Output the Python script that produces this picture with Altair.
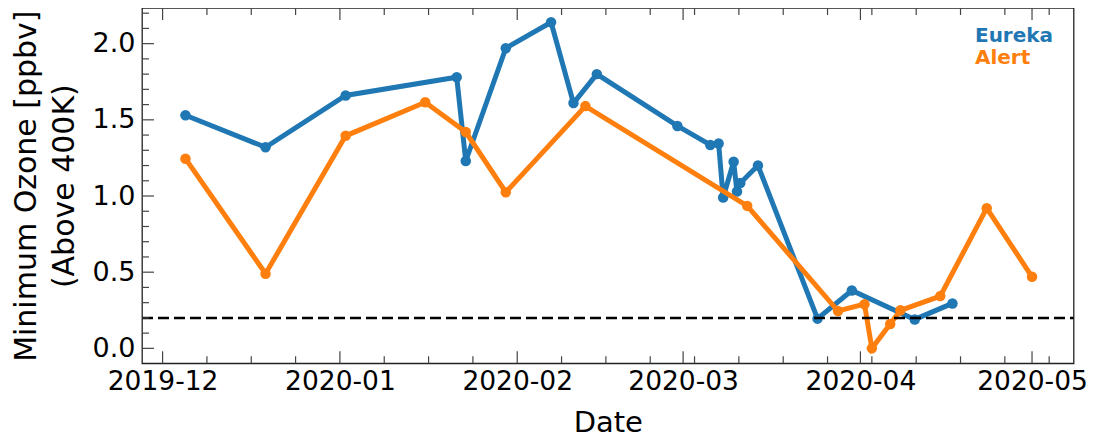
import altair as alt
import pandas as pd

# ---------------- data ----------------
eureka_dates = [
    "2019-12-05T00:00:00Z", "2019-12-19T00:00:00Z", "2020-01-02T00:00:00Z",
    "2020-01-21T10:00:00Z", "2020-01-23T00:00:00Z", "2020-01-30T00:00:00Z",
    "2020-02-06T22:00:00Z", "2020-02-10T20:00:00Z", "2020-02-14T22:00:00Z",
    "2020-02-29T00:00:00Z", "2020-03-05T18:00:00Z", "2020-03-07T05:00:00Z",
    "2020-03-08T00:00:00Z", "2020-03-09T20:00:00Z", "2020-03-10T10:00:00Z",
    "2020-03-11T00:00:00Z", "2020-03-14T02:00:00Z", "2020-03-24T12:00:00Z",
    "2020-03-30T12:00:00Z", "2020-04-10T12:00:00Z", "2020-04-17T02:00:00Z",
]
eureka_vals = [
    1.53, 1.32, 1.66, 1.78, 1.23, 1.97, 2.14, 1.61, 1.80, 1.46, 1.335,
    1.345, 0.99, 1.225, 1.03, 1.085, 1.20, 0.195, 0.38, 0.19, 0.295,
]

alert_dates = [
    "2019-12-05T00:00:00Z", "2019-12-19T00:00:00Z", "2020-01-02T00:00:00Z",
    "2020-01-15T22:00:00Z", "2020-01-23T00:00:00Z", "2020-01-30T00:00:00Z",
    "2020-02-12T22:00:00Z", "2020-03-12T05:00:00Z", "2020-03-28T02:00:00Z",
    "2020-04-01T17:00:00Z", "2020-04-03T00:00:00Z", "2020-04-06T05:00:00Z",
    "2020-04-08T00:00:00Z", "2020-04-14T23:00:00Z", "2020-04-23T02:00:00Z",
    "2020-05-01T00:00:00Z",
]
alert_vals = [
    1.245, 0.49, 1.395, 1.615, 1.42, 1.025, 1.59, 0.935, 0.245, 0.29,
    0.0, 0.16, 0.25, 0.343, 0.92, 0.47,
]

threshold = [0.2]
series_names = ["Eureka", "Alert"]
x_tick_labels = ["2019-12-01", "2020-01-01", "2020-02-01", "2020-03-01",
                 "2020-04-01", "2020-05-01"]
y_tick_labels = [0.0, 0.5, 1.0, 1.5, 2.0]
y_title = ["Minimum Ozone [ppbv]", "(Above 400K)"]
x_title = "Date"

# ---------------- styling / layout ----------------
W = 931.6
H = 355.3
BLUE = "#1f77b4"
ORANGE = "#ff7f0e"
FONT = "DejaVu Sans"
TICK = "#444444"


def ms(s):
    return int(pd.Timestamp(s, tz="UTC").value // 10**6)


x_domain = [ms("2019-11-27T09:35:00"), ms("2020-05-08T06:25:00")]
y_domain = [-0.098, 2.234]

month_ms = [ms(d) for d in x_tick_labels]
# matplotlib AutoMinorLocator: 4 subdivisions of the first major step (31 days)
step = pd.Timedelta(days=7.75)
start = pd.Timestamp(x_tick_labels[0], tz="UTC")
minor_x = []
for k in range(-1, 22):
    t = start + k * step
    v = int(t.value // 10**6)
    if x_domain[0] < v < x_domain[1] and v not in month_ms:
        minor_x.append(v)
minor_y = [round(i * 0.1, 1) for i in range(0, 23)]
minor_y = [v for v in minor_y if all(abs(v - m) > 1e-6 for m in y_tick_labels)]

xscale = alt.Scale(type="utc", domain=x_domain, nice=False)
yscale = alt.Scale(domain=y_domain, nice=False, zero=False)

xaxis = alt.Axis(
    values=month_ms, labelExpr="utcFormat(datum.value, '%Y-%m')",
    ticks=False, tickSize=0,
    domain=False, grid=False, labelFont=FONT, labelFontSize=26.5,
    labelColor="black", labelPadding=5, labelFlush=False, labelOverlap=False,
    titleFont=FONT, titleFontSize=29, titleFontWeight="normal",
    titleColor="black", titlePadding=14,
)
yaxis = alt.Axis(
    values=y_tick_labels, format=".1f", ticks=False, tickSize=0, domain=False,
    grid=False, labelFont=FONT, labelFontSize=27, labelColor="black",
    labelPadding=7, labelFlush=False, labelOverlap=False,
    titleFont=FONT, titleFontSize=30, titleFontWeight="normal",
    titleColor="black", titlePadding=13, titleLineHeight=38,
)


def X():
    return alt.X("date:T", scale=xscale, axis=xaxis, title=x_title)


def Y():
    return alt.Y("val:Q", scale=yscale, axis=yaxis, title=y_title)


eu = pd.DataFrame({"date": eureka_dates, "val": eureka_vals})
al = pd.DataFrame({"date": alert_dates, "val": alert_vals})

line_e = alt.Chart(eu).mark_line(color=BLUE, strokeWidth=5).encode(x=X(), y=Y())
pts_e = alt.Chart(eu).mark_circle(color=BLUE, size=110, opacity=1).encode(x=X(), y=Y())
line_a = alt.Chart(al).mark_line(color=ORANGE, strokeWidth=5).encode(x=X(), y=Y())
pts_a = alt.Chart(al).mark_circle(color=ORANGE, size=110, opacity=1).encode(x=X(), y=Y())

thr = alt.Chart(pd.DataFrame({"val": threshold})).mark_rule(
    color="black", strokeWidth=2.5, strokeDash=[11, 5]
).encode(y=Y(), x=alt.value(0), x2=alt.value(W))

maj_x = pd.DataFrame({"date": month_ms})
min_x = pd.DataFrame({"date": minor_x})
maj_y = pd.DataFrame({"val": y_tick_labels})
min_y = pd.DataFrame({"val": minor_y})


def xt(df, y0, y1):
    return alt.Chart(df).mark_rule(color=TICK, strokeWidth=1.2).encode(
        x=X(), y=alt.value(y0), y2=alt.value(y1))


def yt(df, length):
    return alt.Chart(df).mark_rule(color=TICK, strokeWidth=1.2).encode(
        y=Y(), x=alt.value(0), x2=alt.value(length))


ticks = [
    xt(maj_x, H, H - 12), xt(min_x, H, H - 7),
    xt(maj_x, 0, 12), xt(min_x, 0, 7),
    yt(maj_y, 12), yt(min_y, 7),
]

leg_e = alt.Chart(pd.DataFrame({"t": [series_names[0]]})).mark_text(
    align="left", baseline="middle", font=FONT, fontSize=20, fontWeight="bold",
    color=BLUE,
).encode(text="t:N", x=alt.value(833), y=alt.value(28))
leg_a = alt.Chart(pd.DataFrame({"t": [series_names[1]]})).mark_text(
    align="left", baseline="middle", font=FONT, fontSize=20, fontWeight="bold",
    color=ORANGE,
).encode(text="t:N", x=alt.value(833), y=alt.value(50))

chart = alt.layer(
    line_e, pts_e, line_a, pts_a, thr, *ticks, leg_e, leg_a
).properties(
    width=W, height=H,
    autosize=alt.AutoSizeParams(type="none"),
    padding={"left": 134, "top": 0, "right": 13.3, "bottom": 78},
).configure_view(stroke="#222222", strokeWidth=1.3)

chart.save("out.html", embed_options={"renderer": "svg", "actions": False})
